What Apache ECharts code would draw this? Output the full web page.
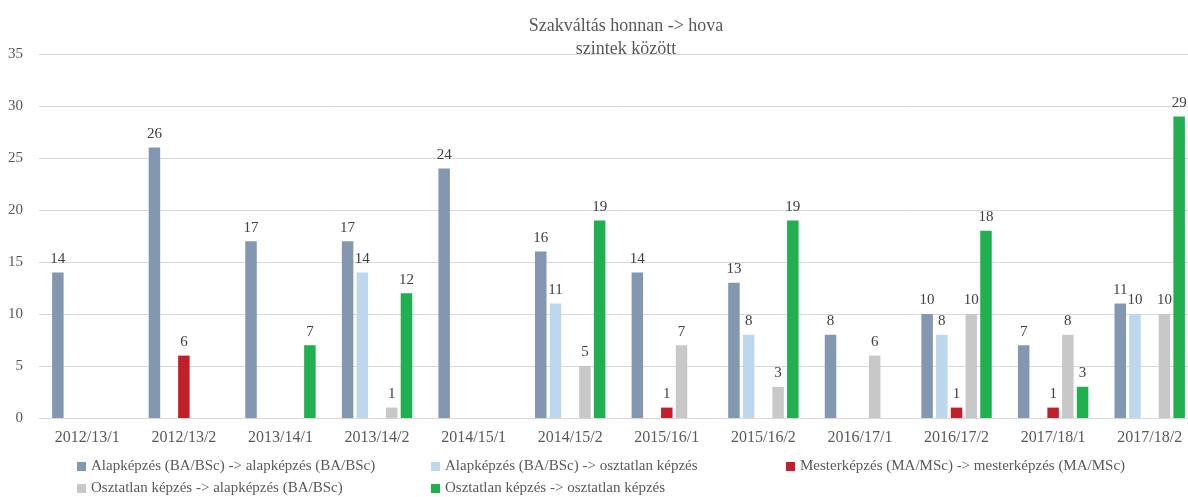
<!DOCTYPE html>
<html>
<head>
<meta charset="utf-8">
<style>
  html, body { margin: 0; padding: 0; background: #ffffff; overflow: hidden; }
  body { width: 1188px; height: 497px; }
  /* the plot runs slightly past the right edge of the page */
  #chart { width: 1198px; height: 497px; }
</style>
<script src="https://cdn.jsdelivr.net/npm/echarts@6/dist/echarts.min.js"></script>
</head>
<body>
<div id="chart"></div>
<script>
// Semesters on the category axis
const categories = [
  '2012/13/1', '2012/13/2', '2013/14/1', '2013/14/2', '2014/15/1', '2014/15/2',
  '2015/16/1', '2015/16/2', '2016/17/1', '2016/17/2', '2017/18/1', '2017/18/2'
];

// Number of programme changes per transition type (null = none)
const baToBa = [14, 26, 17, 17, 24, 16, 14, 13, 8, 10, 7, 11];
const baToUndivided = [null, null, null, 14, null, 11, null, 8, null, 8, null, 10];
const maToMa = [null, 6, null, null, null, null, 1, null, null, 1, 1, null];
const undividedToBa = [null, null, null, 1, null, 5, 7, 3, 6, 10, 8, 10];
const undividedToUndivided = [null, null, 7, 12, null, 19, null, 19, null, 18, 3, 29];

const seriesNames = [
  'Alapképzés (BA/BSc) -> alapképzés (BA/BSc)',
  'Alapképzés (BA/BSc) -> osztatlan képzés',
  'Mesterképzés (MA/MSc) -> mesterképzés (MA/MSc)',
  'Osztatlan képzés -> alapképzés (BA/BSc)',
  'Osztatlan képzés -> osztatlan képzés'
];
const seriesData = [baToBa, baToUndivided, maToMa, undividedToBa, undividedToUndivided];
const seriesColors = ['#8497B0', '#BDD7EE', '#C11F2A', '#C8C8C8', '#21B04F'];

// Y axis ticks
const yMin = 0;
const yMax = 35;
const yStep = 5;

const FONT = '"Liberation Serif", "DejaVu Serif", serif';
const TEXT = '#595959';

// Legend laid out as a 3-column grid: [left, top] per series
const legendSlots = [[77, 459], [431, 459], [786, 459], [77, 481], [431, 481]];

const chart = echarts.init(document.getElementById('chart'), null, { renderer: 'canvas' });

chart.setOption({
  backgroundColor: '#ffffff',
  animation: false,
  title: {
    text: 'Szakváltás honnan -> hova\nszintek között',
    left: 621,
    textAlign: 'center',
    top: 10,
    textStyle: {
      fontFamily: FONT,
      fontSize: 18,
      fontWeight: 'normal',
      color: TEXT,
      lineHeight: 23
    }
  },
  legend: seriesNames.map((name, i) => ({
    data: [name],
    left: legendSlots[i][0],
    top: legendSlots[i][1],
    padding: 0,
    itemWidth: 9,
    itemHeight: 9,
    icon: 'rect',
    selectedMode: false,
    textStyle: { fontFamily: FONT, fontSize: 15, color: TEXT }
  })),
  grid: {
    left: 39,
    right: 0,
    top: 54,
    height: 364,
    containLabel: false
  },
  xAxis: {
    type: 'category',
    data: categories,
    axisLine: { show: true, lineStyle: { color: '#D9D9D9', width: 1 } },
    axisTick: { show: false },
    axisLabel: {
      fontFamily: FONT,
      fontSize: 16,
      color: TEXT,
      margin: 12,
      interval: 0
    }
  },
  yAxis: {
    type: 'value',
    min: yMin,
    max: yMax,
    interval: yStep,
    axisLine: { show: false },
    axisTick: { show: false },
    splitLine: { lineStyle: { color: '#D9D9D9', width: 1 } },
    axisLabel: {
      fontFamily: FONT,
      fontSize: 15,
      color: TEXT,
      margin: 16
    }
  },
  series: seriesNames.map((name, i) => ({
    name: name,
    type: 'bar',
    data: seriesData[i],
    barWidth: 11.5,
    barGap: '28%',
    itemStyle: { color: seriesColors[i] },
    label: {
      show: true,
      position: 'top',
      distance: 6,
      fontFamily: FONT,
      fontSize: 15,
      color: '#404040'
    }
  }))
});
</script>
</body>
</html>
